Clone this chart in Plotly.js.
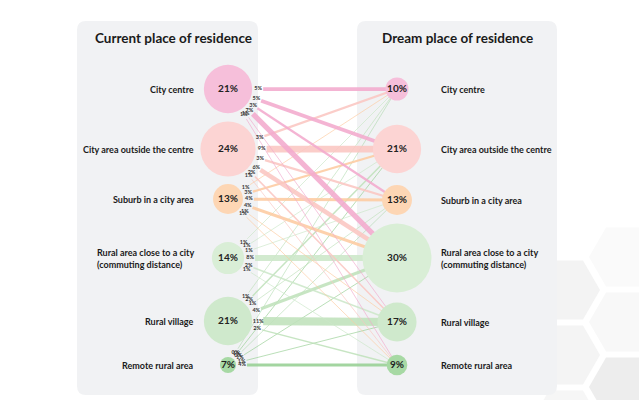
<!DOCTYPE html>
<html>
<head>
<meta charset="utf-8">
<script src="https://cdn.plot.ly/plotly-3.0.1.min.js"></script>
<style>html,body{margin:0;padding:0;background:#fff;}#chart{width:639px;height:400px;}</style>
</head>
<body>
<div id="chart"></div>
<script>
// ---- data ----
const categories = ['City centre', 'City area outside the centre', 'Suburb in a city area',
  'Rural area close to a city<br>(commuting distance)', 'Rural village', 'Remote rural area'];
const currentShare = [21, 24, 13, 14, 21, 7];
const dreamShare = [10, 21, 13, 30, 17, 9];
// flows from current place (row) to dream place (column), %
const flowCityCentre = [5, 5, 3, 7, 1, 1];
const flowCityArea = [3, 9, 3, 6, 2, 1];
const flowSuburb = [1, 3, 4, 4, 1, 1];
const flowRuralClose = [1, 1, 1, 8, 2, 1];
const flowVillage = [1, 2, 1, 4, 11, 2];
const flowRemote = [0, 1, 0, 1, 1, 4];
const flows = [flowCityCentre, flowCityArea, flowSuburb, flowRuralClose, flowVillage, flowRemote];

// ---- layout / style ----
const COL_X = [228, 397];
const ROW_Y_CUR = [89, 149, 199, 258, 321, 365];
const ROW_Y_DREAM = [89, 149, 200, 258, 322, 365];
const SIZE_PER_PCT = 2.3;
const WIDTH_PER_PCT = 0.75;
const nodeColors = ['#f6bfda', '#fcd4d3', '#fdd6b4', '#d9eed6', '#cfe9cc', '#a7d9a4'];
const lineColors = ['#f2aacd', '#fbc6c1', '#fdcba1', '#cce7c8', '#bfe1bb', '#96cf93'];
const FONT = 'Lato, "Open Sans", sans-serif';

const traces = [];
const labX = [], labY = [], labT = [];
for (let i = flows.length - 1; i >= 0; i--) {
  flows[i].forEach((v, j) => {
    const x0 = COL_X[0], y0 = ROW_Y_CUR[i], x1 = COL_X[1], y1 = ROW_Y_DREAM[j];
    const dx = x1 - x0, dy = y1 - y0, L = Math.hypot(dx, dy);
    const ux = dx / L, uy = dy / L;
    const r = currentShare[i] * SIZE_PER_PCT / 2;
    traces.push({
      type: 'scatter', mode: 'lines', hoverinfo: 'skip',
      x: [x0 + ux * (r + 11), x1], y: [y0 + uy * (r + 11), y1],
      line: {color: lineColors[i], width: Math.max(v * WIDTH_PER_PCT, 0.5)},
      opacity: 0.88
    });
    labX.push(x0 + ux * (r + 6));
    labY.push(y0 + uy * (r + 6));
    labT.push(v + '%');
  });
}
traces.push({
  type: 'scatter', mode: 'text', x: labX, y: labY, text: labT, hoverinfo: 'skip',
  textfont: {family: FONT, size: 5.5, color: '#333', weight: 700}
});
traces.push({
  type: 'scatter', mode: 'markers+text', hoverinfo: 'skip',
  x: currentShare.map(() => COL_X[0]), y: ROW_Y_CUR,
  marker: {size: currentShare.map(v => v * SIZE_PER_PCT), color: nodeColors, line: {width: 0}, opacity: 1},
  text: currentShare.map(v => v + '%'), textposition: 'middle center',
  textfont: {family: FONT, size: 10, color: '#222', weight: 700}
});
traces.push({
  type: 'scatter', mode: 'markers+text', hoverinfo: 'skip',
  x: dreamShare.map(() => COL_X[1]), y: ROW_Y_DREAM,
  marker: {size: dreamShare.map(v => v * SIZE_PER_PCT), color: nodeColors, line: {width: 0}, opacity: 1},
  text: dreamShare.map(v => v + '%'), textposition: 'middle center',
  textfont: {family: FONT, size: 10, color: '#222', weight: 700}
});

function roundRect(x0, y0, x1, y1, r) {
  return `M${x0 + r},${y0} L${x1 - r},${y0} Q${x1},${y0} ${x1},${y0 + r} L${x1},${y1 - r} Q${x1},${y1} ${x1 - r},${y1} ` +
    `L${x0 + r},${y1} Q${x0},${y1} ${x0},${y1 - r} L${x0},${y0 + r} Q${x0},${y0} ${x0 + r},${y0} Z`;
}
function hexPath(cx, cy, a) {
  const h = a * Math.sqrt(3) / 2;
  return `M${cx - a},${cy} L${cx - a / 2},${cy - h} L${cx + a / 2},${cy - h} L${cx + a},${cy} L${cx + a / 2},${cy + h} L${cx - a / 2},${cy + h} Z`;
}
const hexes = [[566, 290, '#f3f3f3'], [623, 322, '#f8f8f8'], [566, 355, '#f4f4f4'], [623, 387, '#ededed'], [566, 420, '#f6f6f6'], [623, 257, '#fafafa']];
const shapes = [];
hexes.forEach(h => shapes.push({type: 'path', path: hexPath(h[0], h[1], 34), fillcolor: h[2], line: {width: 0}, layer: 'below', xref: 'x', yref: 'y'}));
shapes.push({type: 'path', path: roundRect(77, 21, 258, 395, 9), fillcolor: '#f1f2f4', line: {width: 0}, layer: 'below', xref: 'x', yref: 'y'});
shapes.push({type: 'path', path: roundRect(357, 21, 557, 395, 9), fillcolor: '#f1f2f4', line: {width: 0}, layer: 'below', xref: 'x', yref: 'y'});

const annotations = [];
annotations.push({x: 173, y: 38, text: '<b>Current place of residence</b>', showarrow: false, xref: 'x', yref: 'y',
  font: {family: FONT, size: 13.5, color: '#1a1a1a'}});
annotations.push({x: 457, y: 38, text: '<b>Dream place of residence</b>', showarrow: false, xref: 'x', yref: 'y',
  font: {family: FONT, size: 13.5, color: '#1a1a1a'}});
categories.forEach((c, i) => {
  annotations.push({x: 196, y: ROW_Y_CUR[i], text: '<b>' + c + '</b>', showarrow: false, xanchor: 'right', align: 'left',
    xref: 'x', yref: 'y', font: {family: FONT, size: 9, color: '#1a1a1a'}});
  annotations.push({x: 439, y: ROW_Y_DREAM[i], text: '<b>' + c + '</b>', showarrow: false, xanchor: 'left', align: 'left',
    xref: 'x', yref: 'y', font: {family: FONT, size: 9, color: '#1a1a1a'}});
});

const layout = {
  width: 639, height: 400, margin: {l: 0, r: 0, t: 0, b: 0},
  paper_bgcolor: '#ffffff', plot_bgcolor: 'rgba(0,0,0,0)', showlegend: false,
  xaxis: {range: [0, 639], visible: false, fixedrange: true},
  yaxis: {range: [400, 0], visible: false, fixedrange: true},
  shapes: shapes, annotations: annotations, hovermode: false
};
Plotly.newPlot('chart', traces, layout, {staticPlot: true, displayModeBar: false});
</script>
</body>
</html>
